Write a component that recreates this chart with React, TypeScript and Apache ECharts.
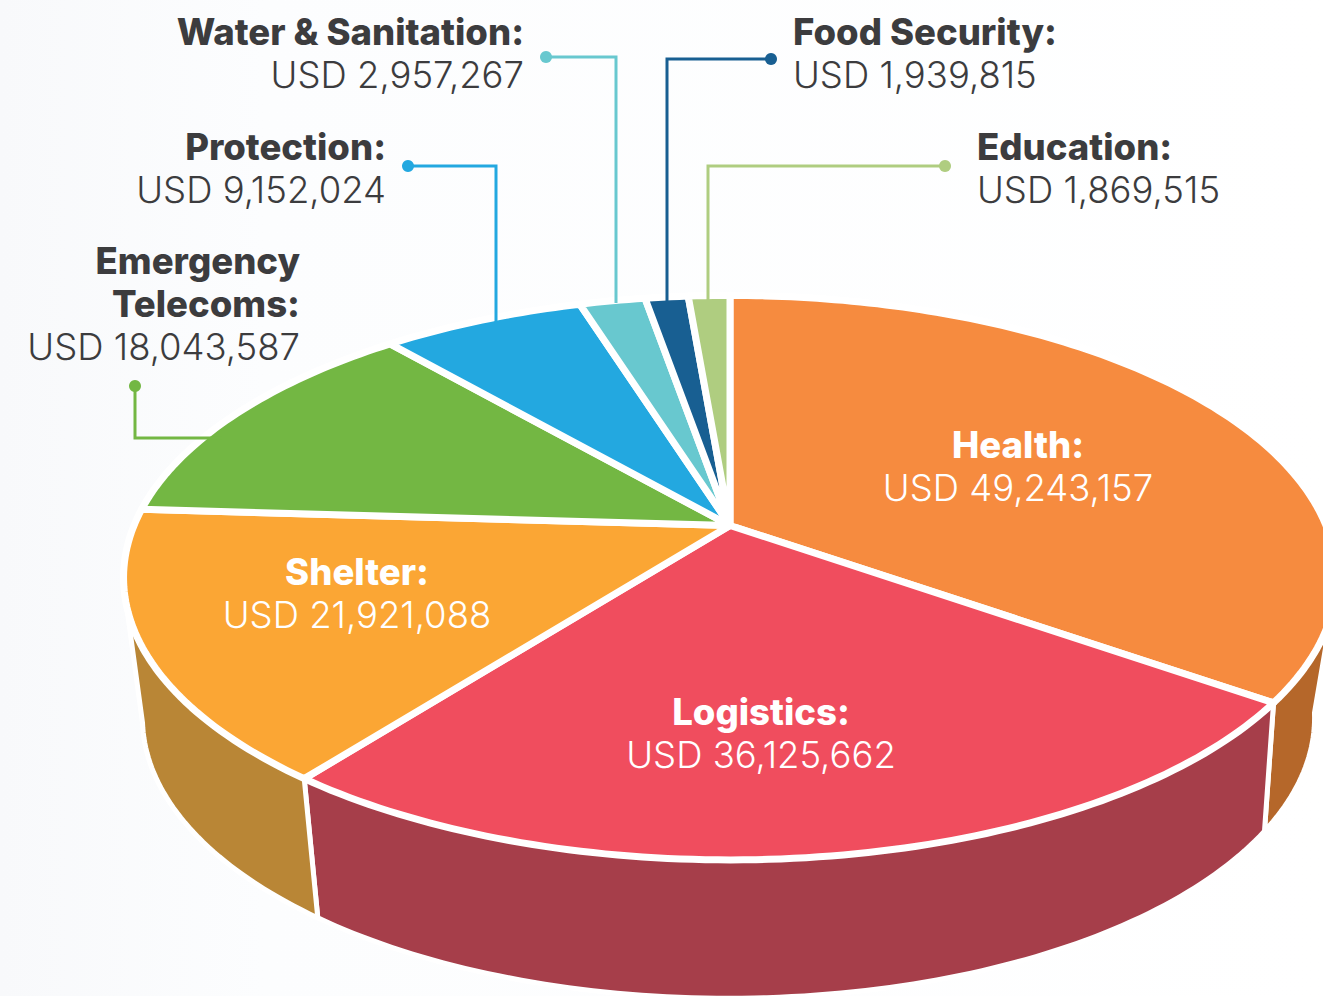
import React, { useEffect, useRef } from "react";
import * as echarts from "echarts";

const categories = ["Health", "Logistics", "Shelter", "Emergency Telecoms", "Protection", "Water & Sanitation", "Food Security", "Education"];
const values = [49243157, 36125662, 21921088, 18043587, 9152024, 2957267, 1939815, 1869515];
const topColors = ["#f68b3f", "#f04d5e", "#fba634", "#73b743", "#23a8e0", "#68c8cf", "#185f92", "#afcd80"];
const wallColors = ["#b5672a", "#a63e4a", "#b98636", "#73b743", "#23a8e0", "#68c8cf", "#185f92", "#afcd80"];
const total = values.reduce((a, b) => a + b, 0);
const starts = values.map((_, i) => values.slice(0, i).reduce((a, b) => a + b, 0) / total);
const rows = values.map((v, i) => [i, starts[i], starts[i] + v / total]);

const TOP = { cx: 730, cy: 525.5, a: 272.6, b: 596, k: 0.1848, rot: 0 };
const BOT = { cx: 728.5, cy: 659, a: 268, b: 573, k: 0.21, rot: -1 / 360 };
function proj(p: any, frac: number) {
  const t = (frac + p.rot) * Math.PI * 2;
  const u = Math.sin(t), v = -Math.cos(t), w = 1 - p.k * v;
  return [p.cx + (p.b * u) / w, p.cy + (p.a * v) / w];
}
function arc(p: any, s: number, e: number) {
  const n = Math.max(2, Math.ceil((e - s) * 360));
  const out: number[][] = [];
  for (let i = 0; i <= n; i++) out.push(proj(p, s + ((e - s) * i) / n));
  return out;
}
// Only the front of the drum shows: clamp a wall to the part between the two silhouette tangents.
const frontFrom = Math.acos(-BOT.k) / (2 * Math.PI);
const frontTo = 1 - frontFrom;

const FONT = "Inter";
const usd = (i: number) => "USD " + values[i].toLocaleString("en-US");
const DARK = "#3c3c3e";
function label(i: number, title: string, x: number, y: number, align: string, color: string) {
  const lines = title.split("\n");
  return [
    ...lines.map((t, j) => ({ type: "text", z: 20, x, y: y + j * 43, style: { text: t, font: `800 36.5px ${FONT}`, fill: color, align, verticalAlign: "middle" } })),
    { type: "text", z: 20, x, y: y + lines.length * 43, style: { text: usd(i), font: `300 36.5px ${FONT}`, fill: color, align, verticalAlign: "middle" } },
  ];
}
function leader(pts: number[][], color: string) {
  return [
    { type: "polyline", z: 10, shape: { points: pts }, style: { stroke: color, lineWidth: 3, fill: "none" } },
    { type: "circle", z: 10, shape: { cx: pts[0][0], cy: pts[0][1], r: 6 }, style: { fill: color } },
  ];
}

export default function App() {
  const ref = useRef<HTMLDivElement>(null);
  useEffect(() => {
    document.body.style.margin = "0";
    const chart = echarts.init(ref.current!, undefined, { renderer: "svg" });
    chart.setOption({
      animation: false,
      backgroundColor: {
        type: "linear", x: 0, y: 0, x2: 1, y2: 0,
        colorStops: [{ offset: 0, color: "#f8f9fb" }, { offset: 0.2, color: "#fcfdfe" }, { offset: 1, color: "#ffffff" }],
      },
      series: [
        {
          type: "custom", coordinateSystem: "none", data: rows, silent: true,
          renderItem: (_: any, api: any) => {
            const i = api.value(0);
            const s = Math.max(api.value(1), frontFrom), e = Math.min(api.value(2), frontTo);
            if (e <= s) return null;
            return {
              type: "polygon",
              shape: { points: [...arc(TOP, s, e), ...arc(BOT, s, e).reverse()] },
              style: { fill: wallColors[i], stroke: "#fff", lineWidth: 5, lineJoin: "round" },
            };
          },
        },
        {
          type: "custom", coordinateSystem: "none", data: rows, silent: true,
          renderItem: (_: any, api: any) => {
            const i = api.value(0), s = api.value(1), e = api.value(2);
            return {
              type: "polygon",
              shape: { points: [[TOP.cx, TOP.cy], ...arc(TOP, s, e)] },
              style: { fill: topColors[i], stroke: "#fff", lineWidth: 7, lineJoin: "round" },
            };
          },
        },
      ],
      graphic: { elements: [
        ...leader([[546, 57], [616, 57], [616, 303]], topColors[5]),
        ...leader([[771, 59], [667, 59], [667, 301]], topColors[6]),
        ...leader([[945, 166], [708, 166], [708, 301]], topColors[7]),
        ...leader([[408, 166], [496, 166], [496, 325]], topColors[4]),
        ...leader([[135, 386], [135, 438], [222, 438]], topColors[3]),
        ...label(5, categories[5] + ":", 524, 32, "right", DARK),
        ...label(6, categories[6] + ":", 793, 32, "left", DARK),
        ...label(4, categories[4] + ":", 386, 147, "right", DARK),
        ...label(7, categories[7] + ":", 977, 147, "left", DARK),
        ...label(3, "Emergency\nTelecoms:", 300, 261, "right", DARK),
        ...label(0, categories[0] + ":", 1018, 445, "center", "#fff"),
        ...label(2, categories[2] + ":", 357, 572, "center", "#fff"),
        ...label(1, categories[1] + ":", 761, 712, "center", "#fff"),
      ] },
    });
    return () => chart.dispose();
  }, []);
  return <div ref={ref} style={{ width: 1323, height: 996, overflow: "hidden" }} />;
}
